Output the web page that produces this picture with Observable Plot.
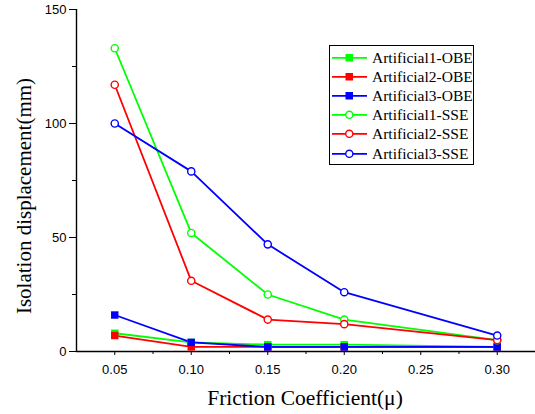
<!DOCTYPE html>
<html>
<head>
<meta charset="utf-8">
<script src="https://cdn.jsdelivr.net/npm/d3@7"></script>
<script src="https://cdn.jsdelivr.net/npm/@observablehq/plot@0.6"></script>
<style>
  html, body { margin: 0; padding: 0; background: #fff; }
  #wrap { position: relative; width: 535px; height: 414px; overflow: hidden; }
  .title { position: absolute; font-family: "Liberation Serif", "Times New Roman", serif; color: #000; white-space: nowrap; }
  #legend { position: absolute; left: 329px; top: 45px; width: 143px; height: 116px; border: 1px solid #000; background: #fff; padding-top: 2px; box-sizing: content-box; }
  .row { display: flex; align-items: center; height: 19.2px; font-family: "Liberation Serif", "Times New Roman", serif; font-size: 15.5px; color: #000; }
  .row svg { margin-left: 2px; margin-right: 5px; }
</style>
</head>
<body>
<div id="wrap"></div>
<script>
const friction = [0.05, 0.10, 0.15, 0.20, 0.30];
const seriesNames = ["Artificial1-OBE", "Artificial2-OBE", "Artificial3-OBE", "Artificial1-SSE", "Artificial2-SSE", "Artificial3-SSE"];
const seriesColors = ["#00ff00", "#ff0000", "#0000ff", "#00ff00", "#ff0000", "#0000ff"];
const seriesFilled = [true, true, true, false, false, false];
const a1OBE = [8, 4, 3, 3, 2];
const a2OBE = [7, 2, 2, 2, 2];
const a3OBE = [16, 4, 2, 2, 2];
const a1SSE = [133, 52, 25, 14, 5];
const a2SSE = [117, 31, 14, 12, 5];
const a3SSE = [100, 79, 47, 26, 7];
const seriesValues = [a1OBE, a2OBE, a3OBE, a1SSE, a2SSE, a3SSE];
const xMajorTicks = [0.05, 0.10, 0.15, 0.20, 0.25, 0.30];
const xMinorTicks = [0.075, 0.125, 0.175, 0.225, 0.275];
const yMajorTicks = [0, 50, 100, 150];
const yMinorTicks = [25, 75, 125];
const xDomain = [0.025, 0.325];
const yDomain = [0, 150];
const xTitle = "Friction Coefficient(μ)";
const yTitle = "Isolation displacement(mm)";

const rows = [];
seriesNames.forEach((name, i) => {
  friction.forEach((f, j) => rows.push({series: name, x: f, y: seriesValues[i][j], color: seriesColors[i], filled: seriesFilled[i]}));
});

const marks = [];
seriesNames.forEach((name, i) => {
  const d = rows.filter(r => r.series === name);
  marks.push(Plot.line(d, {x: "x", y: "y", stroke: seriesColors[i], strokeWidth: 1.8}));
});
seriesNames.forEach((name, i) => {
  const d = rows.filter(r => r.series === name);
  if (seriesFilled[i]) {
    marks.push(Plot.dot(d, {x: "x", y: "y", symbol: "square", r: 4.2, fill: seriesColors[i], stroke: "none"}));
  } else {
    marks.push(Plot.dot(d, {x: "x", y: "y", symbol: "circle", r: 3.6, fill: "#fff", stroke: seriesColors[i], strokeWidth: 1.4}));
  }
});

const chart = Plot.plot({
  width: 535,
  height: 414,
  marginLeft: 76,
  marginRight: 0,
  marginTop: 9,
  marginBottom: 63,
  style: {fontFamily: "'Liberation Sans', Arial, sans-serif", fontSize: "13px", color: "#000", background: "#fff"},
  x: {domain: xDomain, axis: null},
  y: {domain: yDomain, axis: null},
  marks: [
    Plot.axisX({ticks: xMinorTicks, tickSize: 3, text: null, label: null, stroke: "#000"}),
    Plot.axisX({ticks: xMajorTicks, tickSize: 4, tickPadding: 9, tickFormat: d => d.toFixed(2), label: null, stroke: "#000", fontSize: 13}),
    Plot.axisY({ticks: yMinorTicks, tickSize: 4, text: null, label: null, stroke: "#000"}),
    Plot.axisY({ticks: yMajorTicks, tickSize: 7, tickPadding: 3, tickFormat: d => String(d), label: null, stroke: "#000", fontSize: 13}),
    Plot.ruleY([yDomain[0]], {stroke: "#000", strokeWidth: 1.4}),
    Plot.ruleX([xDomain[0]], {stroke: "#000", strokeWidth: 1.4}),
    ...marks
  ]
});

const wrap = document.getElementById("wrap");
wrap.appendChild(chart);

const xt = document.createElement("div");
xt.className = "title";
xt.textContent = xTitle;
xt.style.fontSize = "21.5px";
xt.style.left = "305px";
xt.style.top = "398px";
xt.style.transform = "translate(-50%, -50%)";
wrap.appendChild(xt);

const yt = document.createElement("div");
yt.className = "title";
yt.textContent = yTitle;
yt.style.fontSize = "21px";
yt.style.left = "24px";
yt.style.top = "196px";
yt.style.transform = "translate(-50%, -50%) rotate(-90deg)";
wrap.appendChild(yt);

const legend = document.createElement("div");
legend.id = "legend";
seriesNames.forEach((name, i) => {
  const row = document.createElement("div");
  row.className = "row";
  const c = seriesColors[i];
  const marker = seriesFilled[i]
    ? `<rect x="13.5" y="4" width="7.5" height="7.5" fill="${c}"/>`
    : `<circle cx="17.3" cy="7.8" r="3.6" fill="#fff" stroke="${c}" stroke-width="1.4"/>`;
  row.innerHTML = `<svg width="35" height="16"><line x1="0" x2="35" y1="7.8" y2="7.8" stroke="${c}" stroke-width="1.8"/>${marker}</svg><span>${name}</span>`;
  legend.appendChild(row);
});
wrap.appendChild(legend);
</script>
</body>
</html>
